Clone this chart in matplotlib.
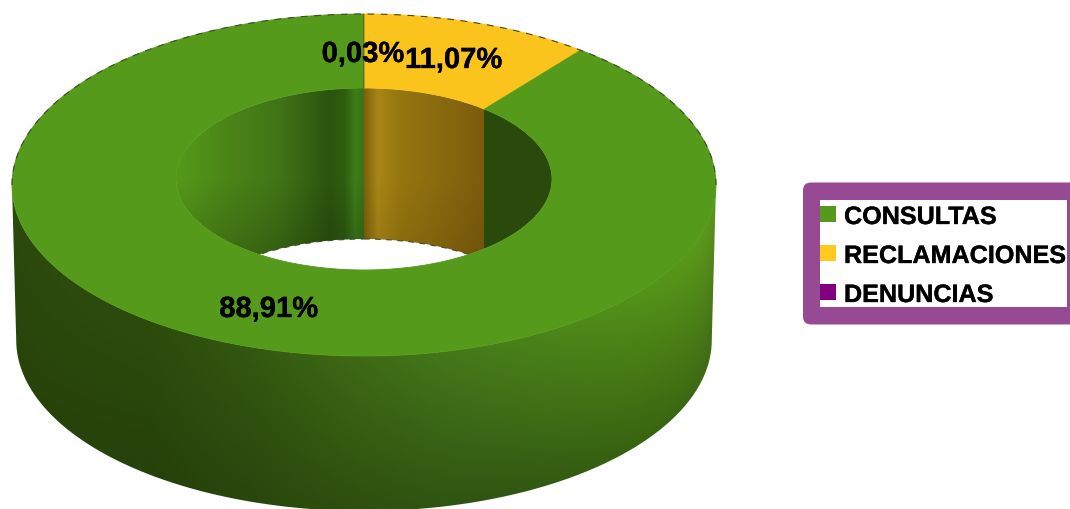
#!/usr/bin/env python3
# -*- coding: utf-8 -*-
"""Doughnut chart with a 3D look, drawn on a pixel-sized canvas."""

import numpy as np
import matplotlib
matplotlib.use('Agg')
import matplotlib.pyplot as plt
import matplotlib.patheffects as pe
from matplotlib.colors import to_rgb
from matplotlib.patches import Ellipse, FancyBboxPatch, Polygon, Rectangle

matplotlib.rcParams['font.family'] = ['Liberation Sans', 'DejaVu Sans']

# Data
legend_names = ['CONSULTAS', 'RECLAMACIONES', 'DENUNCIAS']
legend_colors = ['#559a1a', '#ffcc1e', '#800080']

# Slices in drawing order, clockwise from 12 o'clock
slice_names = ['RECLAMACIONES', 'CONSULTAS', 'DENUNCIAS']
slice_values = [11.07, 88.91, 0.03]

# Ring geometry in pixels
CX = 364
OUTER_RX, OUTER_RY, OUTER_CY = 352, 171, 186
INNER_RX, INNER_RY, INNER_CY = 188, 91, 180
OUTER_DEPTH = 155
INNER_DEPTH = 151
BOTTOM_SHRINK = 0.988
PERSPECTIVE_SKEW = 0.033  # outer rim angle shift, radians

TOP_COLORS = {'CONSULTAS': '#559a1a', 'RECLAMACIONES': '#fbc41c', 'DENUNCIAS': '#55702a'}

# Wall shading, as colour stops along x
GREEN_INNER_X = [176, 220, 280, 330, 345, 355, 362]
GREEN_INNER_C = ['#559a1a', '#4c8818', '#407416', '#2c540e', '#2f5f10', '#3e7c18', '#3a7416']
YELLOW_INNER_X = [364, 378, 400, 440, 484]
YELLOW_INNER_C = ['#7d5f0c', '#a88616', '#96760f', '#8a6a0f', '#7c5c0c']
GREEN_OUTER_X = [14, 150, 250, 360, 450, 550, 650, 700, 716]
GREEN_OUTER_C = ['#2c4a0c', '#2d4c0c', '#335810', '#3e6a14', '#44781a', '#4c861a', '#549418', '#5a9a1c', '#5f9420']
DARK_INNER = '#2a4a0c'
EDGE_COLOR = '#3c4a28'


def ring_point(theta, rx, ry, cy):
    return CX + rx * np.sin(theta), cy - ry * np.cos(theta)


def shade(x, stops_x, stops_c):
    rgb = np.array([to_rgb(c) for c in stops_c])
    return np.stack([np.interp(x, stops_x, rgb[:, i]) for i in range(3)], axis=-1)


def slice_ranges():
    edges = np.cumsum([0] + slice_values) / sum(slice_values) * 2 * np.pi
    return list(zip(slice_names, slice_values, edges[:-1], edges[1:]))


def draw_outer_wall(ax):
    xs = np.arange(0, 730) + 0.5
    ys = np.arange(150, 510) + 0.5
    xx, yy = np.meshgrid(xs, ys)
    rgb = shade(xx, GREEN_OUTER_X, GREEN_OUTER_C)
    # How far down the wall each pixel is; the right side falls off more
    u = np.clip((xx - CX) / OUTER_RX, -1, 1)
    h = np.clip((yy - (OUTER_CY + OUTER_RY * np.sqrt(1 - u ** 2))) / OUTER_DEPTH, 0, 1)
    k = 0.08 + 0.25 * np.clip((xx - 14) / 500, 0, 1)
    rgb = rgb * (1 - k * h)[..., None]
    im = ax.imshow(rgb, extent=(0, 730, 510, 150), aspect='auto', zorder=1, interpolation='nearest')

    t = np.linspace(np.pi / 2, 3 * np.pi / 2, 361)
    tx, ty = ring_point(t, OUTER_RX, OUTER_RY, OUTER_CY)
    bx = CX + (tx - CX) * BOTTOM_SHRINK
    by = ty + OUTER_DEPTH
    pts = np.column_stack([np.r_[tx, bx[::-1]], np.r_[ty, by[::-1]]])
    im.set_clip_path(Polygon(pts, closed=True, transform=ax.transData))


def draw_inner_wall(ax):
    xs = np.arange(170, 560) + 0.5
    ys = np.arange(85, 275) + 0.5
    xx, yy = np.meshgrid(xs, ys)
    h = np.clip((yy - INNER_CY) / (INNER_RY + INNER_DEPTH / 2), 0, 1)
    rgb = np.zeros(xx.shape + (3,))

    # Each slice owns the stretch of far wall between its two edge angles
    for name, value, start, end in slice_ranges():
        if name == 'RECLAMACIONES':
            x0 = CX + INNER_RX * np.sin(start)
            x1 = CX + INNER_RX * np.sin(end)
            mask = (xx >= x0) & (xx < x1)
            rgb[mask] = shade(xx[mask], YELLOW_INNER_X, YELLOW_INNER_C) * (1 - 0.2 * h[mask])[..., None]
            rgb[xx >= x1] = to_rgb(DARK_INNER)
    mask = xx < CX
    rgb[mask] = shade(xx[mask], GREEN_INNER_X, GREEN_INNER_C) * (1 - 0.4 * h[mask])[..., None]

    im = ax.imshow(rgb, extent=(170, 560, 275, 85), aspect='auto', zorder=2, interpolation='nearest')
    opening = Ellipse((CX, INNER_CY), 2 * INNER_RX, 2 * INNER_RY, transform=ax.transData)
    im.set_clip_path(opening)

    # Background seen through the hole, under the lower rim of the wall
    through = Ellipse((CX, INNER_CY + INNER_DEPTH), 2 * INNER_RX, 2 * INNER_RY,
                      facecolor='white', edgecolor=EDGE_COLOR, linewidth=0.8,
                      linestyle=(0, (5, 5)), zorder=2.5)
    ax.add_patch(through)
    through.set_clip_path(Ellipse((CX, INNER_CY), 2 * INNER_RX, 2 * INNER_RY, transform=ax.transData))


def draw_top_face(ax):
    for name, value, start, end in slice_ranges():
        t = np.linspace(start, end, max(3, int((end - start) / np.radians(0.5))))
        # Nearer parts of the rim spread out a little under perspective
        ox, oy = ring_point(t - PERSPECTIVE_SKEW * np.sin(2 * t), OUTER_RX, OUTER_RY, OUTER_CY)
        ix, iy = ring_point(t[::-1], INNER_RX, INNER_RY, INNER_CY)
        pts = np.column_stack([np.r_[ox, ix], np.r_[oy, iy]])
        ax.add_patch(Polygon(pts, closed=True, facecolor=TOP_COLORS[name],
                             edgecolor=TOP_COLORS[name], linewidth=0.6, zorder=3))

    # Rough dark rim along the far edge
    t = np.linspace(-np.pi / 2, np.pi / 2, 361)
    ox, oy = ring_point(t, OUTER_RX, OUTER_RY, OUTER_CY)
    ax.plot(ox, oy, color=EDGE_COLOR, linewidth=0.8, linestyle=(0, (6, 6)), zorder=3.5)


def draw_legend(ax):
    ax.add_patch(FancyBboxPatch((809, 189.5), 270, 130, boxstyle='round,pad=6,rounding_size=8',
                                facecolor='#964a94', edgecolor='none', zorder=1))
    ax.add_patch(Rectangle((820, 200.5), 247, 107, facecolor='white', edgecolor='none', zorder=2))
    for i, (label, color) in enumerate(zip(legend_names, legend_colors)):
        y = 207 + 39 * i
        ax.add_patch(Rectangle((820, y), 16, 16, facecolor=color, edgecolor='none', zorder=3))
        ax.text(844, y + 11, label, fontsize=18.1, fontweight='bold', color='black',
                va='center', ha='left', zorder=4,
                path_effects=[pe.withStroke(linewidth=0.25, foreground='black')])


def fmt_pct(value):
    return f'{value:.2f}%'.replace('.', ',')


def main():
    fig = plt.figure(figsize=(10.7, 5.1), dpi=100)
    fig.patch.set_facecolor('white')
    ax = fig.add_axes([0, 0, 1, 1])

    draw_outer_wall(ax)
    draw_inner_wall(ax)
    draw_top_face(ax)
    draw_legend(ax)

    label_pos = {'CONSULTAS': (268.5, 310), 'RECLAMACIONES': (453.5, 61), 'DENUNCIAS': (363, 55)}
    for name, value in zip(slice_names, slice_values):
        x, y = label_pos[name]
        ax.text(x, y, fmt_pct(value), fontsize=21, fontweight='bold', color='black',
                ha='center', va='center', zorder=5,
                path_effects=[pe.withStroke(linewidth=0.25, foreground='black')])

    ax.set_xlim(0, 1070)
    ax.set_ylim(510, 0)
    ax.axis('off')

    fig.savefig('out.png', dpi=100)
    plt.close(fig)


if __name__ == '__main__':
    main()
